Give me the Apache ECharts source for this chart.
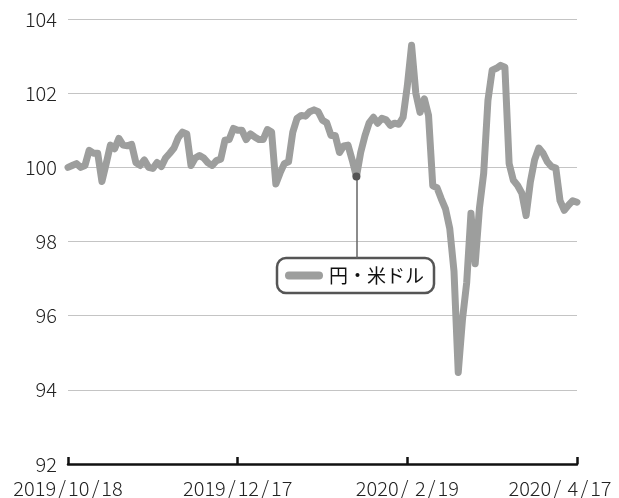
<!DOCTYPE html>
<html>
<head>
<meta charset="utf-8">
<script src="https://cdn.jsdelivr.net/npm/echarts@6/dist/echarts.min.js"></script>
<style>
html, body { margin: 0; padding: 0; background: #fff; }
#chart-container { width: 619px; height: 498px; }
</style>
</head>
<body>
<div id="chart-container"></div>
<script>
// 円・米ドル 指数 (営業日ごと)
const seriesName = '円・米ドル';
const tickLabels = ['2019/10/18', '2019/12/17', '2020/ 2/19', '2020/ 4/17'];
const yenValues = [
    100.0, 100.05, 100.1, 100.0, 100.05, 100.46, 100.38, 100.38, 99.62, 100.1,
    100.6, 100.5, 100.78, 100.6, 100.58, 100.62, 100.13, 100.05, 100.2, 100.0,
    99.97, 100.13, 100.02, 100.25, 100.38, 100.52, 100.8, 100.95, 100.9, 100.05,
    100.25, 100.32, 100.25, 100.12, 100.05, 100.18, 100.22, 100.73, 100.75, 101.05,
    101.0, 101.0, 100.75, 100.9, 100.82, 100.75, 100.75, 101.02, 100.95, 99.55,
    99.85, 100.1, 100.15, 100.95, 101.32, 101.4, 101.38, 101.5, 101.55, 101.5,
    101.27, 101.2, 100.86, 100.86, 100.4, 100.58, 100.6, 100.2, 99.75, 100.4,
    100.85, 101.2, 101.35, 101.19, 101.32, 101.28, 101.13, 101.19, 101.16, 101.35,
    102.2, 103.29, 102.0, 101.48, 101.85, 101.4, 99.5, 99.45, 99.15, 98.88,
    98.35, 97.2, 94.47, 95.9, 96.9, 98.76, 97.4, 98.9, 99.84, 101.8,
    102.62, 102.67, 102.75, 102.7, 100.1, 99.65, 99.51, 99.3, 98.7, 99.6,
    100.2, 100.52, 100.38, 100.15, 100.02, 99.98, 99.1, 98.84, 98.98, 99.1,
    99.06
];
// 注記の位置 (データの添字) と引き出し線の下端の値
const noteIndex = 68;
const noteBottom = 97.55;

const font = '"Noto Sans CJK JP", "Noto Sans", sans-serif';
const lastTick = (yenValues.length - 1);
const tickStep = lastTick / (tickLabels.length - 1);

// 日付ラベルのスラッシュを少し広げる
function dateLabel(text, isLast) {
    const parts = text.split('/').map(function (p) { return '{d|' + p + '}'; });
    return parts.join('{s|/}') + (isLast ? '{pad|}' : '');
}

const labelText = { fontSize: 20, color: '#222', fontFamily: font, fontWeight: 300 };

const chart = echarts.init(document.querySelector('#chart-container'), null, { renderer: 'canvas' });

chart.setOption({
    animation: false,
    textStyle: { fontFamily: font },
    grid: { left: 68, right: 42, top: 19, bottom: 34, containLabel: false, outerBoundsMode: 'none' },
    legend: {
        left: 277,
        top: 258,
        padding: [8, 10, 8, 8],
        backgroundColor: '#fff',
        borderColor: '#555',
        borderWidth: 2.5,
        borderRadius: 9,
        itemWidth: 38,
        itemHeight: 8,
        itemGap: 6,
        icon: 'path://M4,0 H34 A4,4 0 0 1 34,8 H4 A4,4 0 0 1 4,0 Z',
        textStyle: { fontFamily: font, fontSize: 19, color: '#111', padding: [0, 0, 0, 1] },
        data: [seriesName]
    },
    xAxis: {
        type: 'value',
        min: 0,
        max: lastTick,
        interval: tickStep,
        axisLine: { show: true, lineStyle: { color: '#111', width: 2.5 } },
        axisTick: { show: true, inside: true, length: 7, lineStyle: { color: '#111', width: 2.5 } },
        splitLine: { show: false },
        axisLabel: {
            margin: 14,
            fontSize: 20,
            color: '#222',
            fontFamily: font,
            hideOverlap: false,
            formatter: function (v) {
                const i = Math.round(v / tickStep);
                return dateLabel(tickLabels[i], i === tickLabels.length - 1);
            },
            rich: {
                d: labelText,
                s: Object.assign({ padding: [0, 2] }, labelText),
                pad: { width: 34 }
            }
        }
    },
    yAxis: {
        type: 'value',
        min: 92,
        max: 104,
        interval: 2,
        axisLine: { show: false },
        axisTick: { show: false },
        splitLine: { show: true, lineStyle: { color: '#c4c4c4', width: 1 } },
        axisLabel: { margin: 11, fontSize: 20, color: '#222', fontFamily: font, fontWeight: 300 }
    },
    series: [{
        name: seriesName,
        type: 'line',
        data: yenValues.map(function (v, i) { return [i, v]; }),
        showSymbol: false,
        color: '#9d9e9d',
        lineStyle: { color: '#9d9e9d', width: 7, join: 'round', cap: 'round' },
        markLine: {
            silent: true,
            symbol: 'none',
            label: { show: false },
            lineStyle: { color: '#666', width: 1.5, type: 'solid' },
            data: [[
                { coord: [noteIndex, yenValues[noteIndex]] },
                { coord: [noteIndex, noteBottom] }
            ]]
        },
        markPoint: {
            silent: true,
            symbol: 'circle',
            symbolSize: 8,
            itemStyle: { color: '#555' },
            label: { show: false },
            data: [{ coord: [noteIndex, yenValues[noteIndex]] }]
        }
    }]
});
</script>
</body>
</html>
